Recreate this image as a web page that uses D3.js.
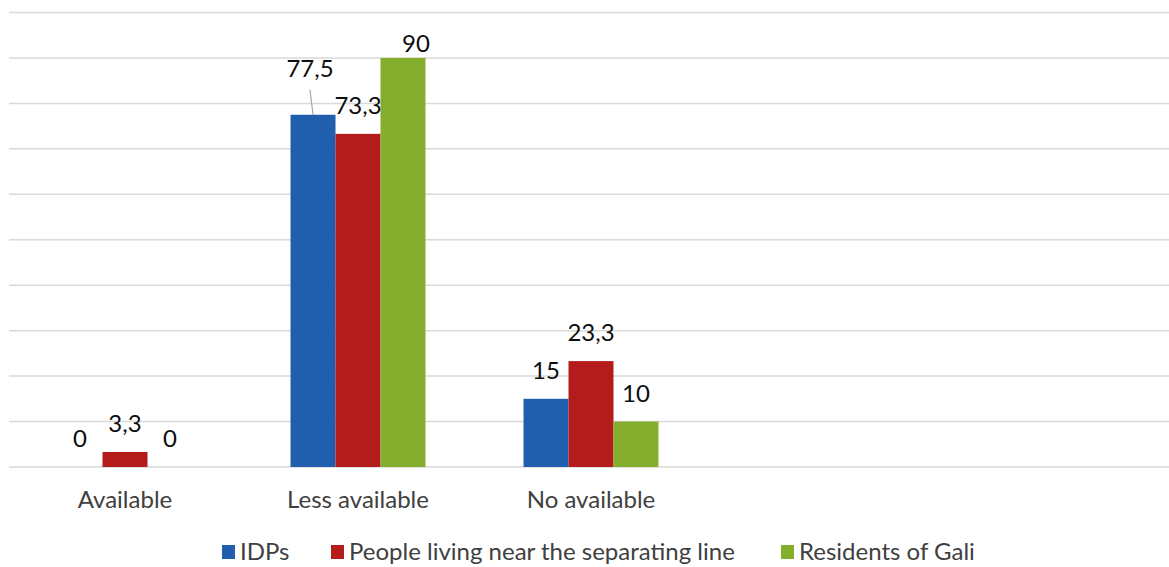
<!DOCTYPE html>
<html>
<head>
<meta charset="utf-8">
<script src="https://cdn.jsdelivr.net/npm/d3@7"></script>
<style>
  body { margin: 0; background: #fff; overflow: hidden; }
  svg text { font-family: Lato, "Open Sans", sans-serif; }
</style>
</head>
<body>
<div id="corpo"></div>
<script>
// data
var categories = ["Available", "Less available", "No available", "", ""];
var seriesNames = ["IDPs", "People living near the separating line", "Residents of Gali"];
var idps = [0, 77.5, 15, null, null];
var nearLine = [3.3, 73.3, 23.3, null, null];
var gali = [0, 90, 10, null, null];
var yTicks = [0, 10, 20, 30, 40, 50, 60, 70, 80, 90, 100];

var seriesValues = [idps, nearLine, gali];
var seriesColors = ["#1f5fae", "#b31c1b", "#86ae2e"];

var width = 1169, height = 567;

var svg = d3.select("#corpo").append("svg")
  .attr("width", width)
  .attr("height", height);

/* escalas */
var x = d3.scaleBand()
  .domain(d3.range(categories.length))
  .range([8.5, 1173.5]);

var xInner = d3.scaleBand()
  .domain(d3.range(seriesNames.length))
  .range([0, x.bandwidth()])
  .paddingOuter(1.09);

var y = d3.scaleLinear()
  .domain([0, 100])
  .range([467, 12.5]);

// gridlines
svg.append("g")
  .selectAll("line")
  .data(yTicks)
  .enter().append("line")
  .attr("x1", 9)
  .attr("x2", width)
  .attr("y1", function(d) { return y(d); })
  .attr("y2", function(d) { return y(d); })
  .attr("stroke", "#d9d9d9")
  .attr("stroke-width", 1.5);

// bars
var groups = svg.append("g")
  .selectAll("g")
  .data(categories)
  .enter().append("g")
  .attr("transform", function(d, i) { return "translate(" + x(i) + ",0)"; });

groups.each(function(c, ci) {
  var g = d3.select(this);
  seriesValues.forEach(function(vals, si) {
    var v = vals[ci];
    if (v === null) return;
    g.append("rect")
      .attr("x", xInner(si))
      .attr("width", xInner.bandwidth())
      .attr("y", y(v))
      .attr("height", y(0) - y(v))
      .attr("fill", seriesColors[si]);
  });
});

// value labels (some were moved by hand in the original: [dx, dy, leader])
var labelShift = { "1-0": [-3, -18, true], "1-2": [13, 14, false] };
groups.each(function(c, ci) {
  var g = d3.select(this);
  seriesValues.forEach(function(vals, si) {
    var v = vals[ci];
    if (v === null) return;
    var cx = xInner(si) + xInner.bandwidth() / 2;
    var s = labelShift[ci + "-" + si] || [0, 0, false];
    var ty = y(v) - 20 + s[1];
    if (s[2]) {
      g.append("line")
        .attr("x1", cx + s[0]).attr("y1", ty + 13)
        .attr("x2", cx).attr("y2", y(v))
        .attr("stroke", "#a6a6a6")
        .attr("stroke-width", 1.2);
    }
    g.append("text")
      .attr("x", cx + s[0])
      .attr("y", ty)
      .attr("text-anchor", "middle")
      .attr("font-size", 24)
      .attr("fill", "#0d0d0d")
      .text(String(v).replace(".", ","));
  });
});

// category labels
groups.append("text")
  .attr("x", x.bandwidth() / 2)
  .attr("y", 508)
  .attr("text-anchor", "middle")
  .attr("font-size", 24)
  .attr("fill", "#404040")
  .text(function(d) { return d; });

// legend (raised a little so the descenders stay inside the frame)
var legendX = [222, 331, 781];
var legend = svg.append("g")
  .selectAll("g")
  .data(seriesNames)
  .enter().append("g")
  .attr("transform", function(d, i) { return "translate(" + legendX[i] + ",545)"; });

legend.append("rect")
  .attr("width", 13)
  .attr("height", 14)
  .attr("fill", function(d, i) { return seriesColors[i]; });

legend.append("text")
  .attr("x", 18)
  .attr("y", 15)
  .attr("font-size", 24)
  .attr("fill", "#404040")
  .text(function(d) { return d; });
</script>
</body>
</html>
